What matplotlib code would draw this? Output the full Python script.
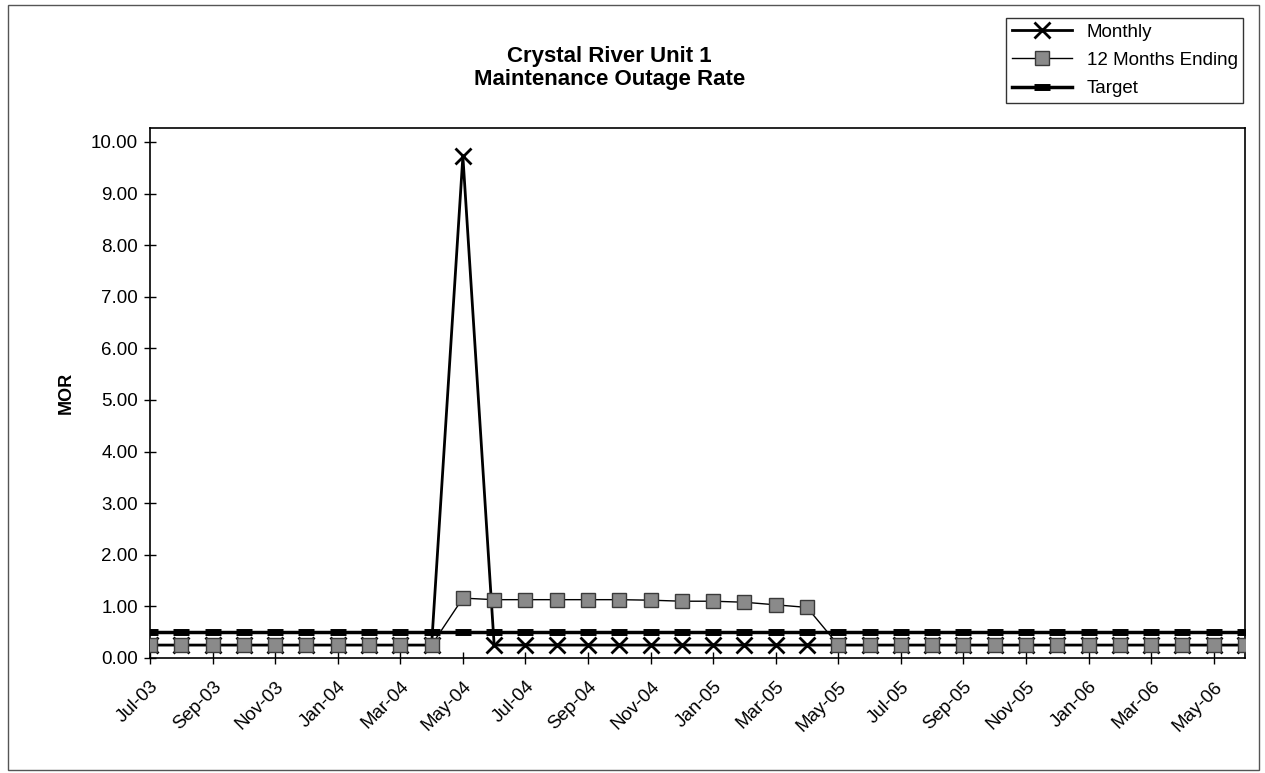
import matplotlib.pyplot as plt
from matplotlib.patches import Rectangle

plt.rcParams['font.family'] = ['Liberation Sans', 'DejaVu Sans']

months = ['Jul-03', 'Aug-03', 'Sep-03', 'Oct-03', 'Nov-03', 'Dec-03',
          'Jan-04', 'Feb-04', 'Mar-04', 'Apr-04', 'May-04', 'Jun-04',
          'Jul-04', 'Aug-04', 'Sep-04', 'Oct-04', 'Nov-04', 'Dec-04',
          'Jan-05', 'Feb-05', 'Mar-05', 'Apr-05', 'May-05', 'Jun-05',
          'Jul-05', 'Aug-05', 'Sep-05', 'Oct-05', 'Nov-05', 'Dec-05',
          'Jan-06', 'Feb-06', 'Mar-06', 'Apr-06', 'May-06', 'Jun-06']

monthly = [0.25, 0.25, 0.25, 0.25, 0.25, 0.25, 0.25, 0.25, 0.25, 0.25,
           9.72, 0.25, 0.25, 0.25, 0.25, 0.25, 0.25, 0.25, 0.25, 0.25,
           0.25, 0.25, 0.25, 0.25, 0.25, 0.25, 0.25, 0.25, 0.25, 0.25,
           0.25, 0.25, 0.25, 0.25, 0.25, 0.25]

twelve_months = [0.25, 0.25, 0.25, 0.25, 0.25, 0.25, 0.25, 0.25, 0.25, 0.25,
                 1.16, 1.13, 1.13, 1.13, 1.13, 1.13, 1.12, 1.10, 1.10, 1.08,
                 1.03, 0.98, 0.25, 0.25, 0.25, 0.25, 0.25, 0.25, 0.25, 0.25,
                 0.25, 0.25, 0.25, 0.25, 0.25, 0.25]

target = [0.5] * len(months)

x = list(range(len(months)))

fig = plt.figure(figsize=(12.65, 7.73), dpi=100)
ax = fig.add_axes([0.1186, 0.1488, 0.8656, 0.6856])

ax.plot(x, monthly, color='black', lw=2, marker='x', ms=11, mew=2,
        label='Monthly', zorder=3)
ax.plot(x, twelve_months, color='black', lw=1, marker='s', ms=10,
        mfc='#8a8a8a', mec='#3a3a3a', mew=1, label='12 Months Ending', zorder=4)
ax.plot(x, target, color='black', lw=2.5, marker='_', ms=12, mew=5,
        label='Target', zorder=2)

ax.set_xlim(0, 35)
ax.set_ylim(0, 10.27)
ax.set_yticks([i for i in range(11)])
ax.set_yticklabels(['%.2f' % i for i in range(11)], fontsize=13.5)
ax.set_xticks(x[::2])
ax.set_xticklabels(months[::2], rotation=45, ha='right', rotation_mode='anchor',
                   fontsize=13.5)
ax.tick_params(axis='both', direction='inout', length=9, width=1, colors='black')
ax.tick_params(axis='x', pad=10)
ax.tick_params(axis='y', pad=4)
for s in ax.spines.values():
    s.set_linewidth(1.2)
    s.set_color('black')

ax.set_ylabel('MOR', fontsize=13, fontweight='bold', labelpad=12)

fig.text(0.482, 0.912, 'Crystal River Unit 1\nMaintenance Outage Rate',
         ha='center', va='center', fontsize=16, fontweight='bold', linespacing=1.1)

leg = fig.legend(loc='upper right', bbox_to_anchor=(0.983, 0.977), fontsize=13.5,
                 frameon=True, fancybox=False, edgecolor='black', borderaxespad=0,
                 handlelength=3.2, borderpad=0.3, labelspacing=0.6)
leg.get_frame().set_linewidth(1)

# thin border around the whole chart area
fig.patches.append(Rectangle((0.006, 0.004), 0.989, 0.989, transform=fig.transFigure,
                             fill=False, edgecolor='#555555', lw=1))

fig.savefig('out.png', dpi=100)
